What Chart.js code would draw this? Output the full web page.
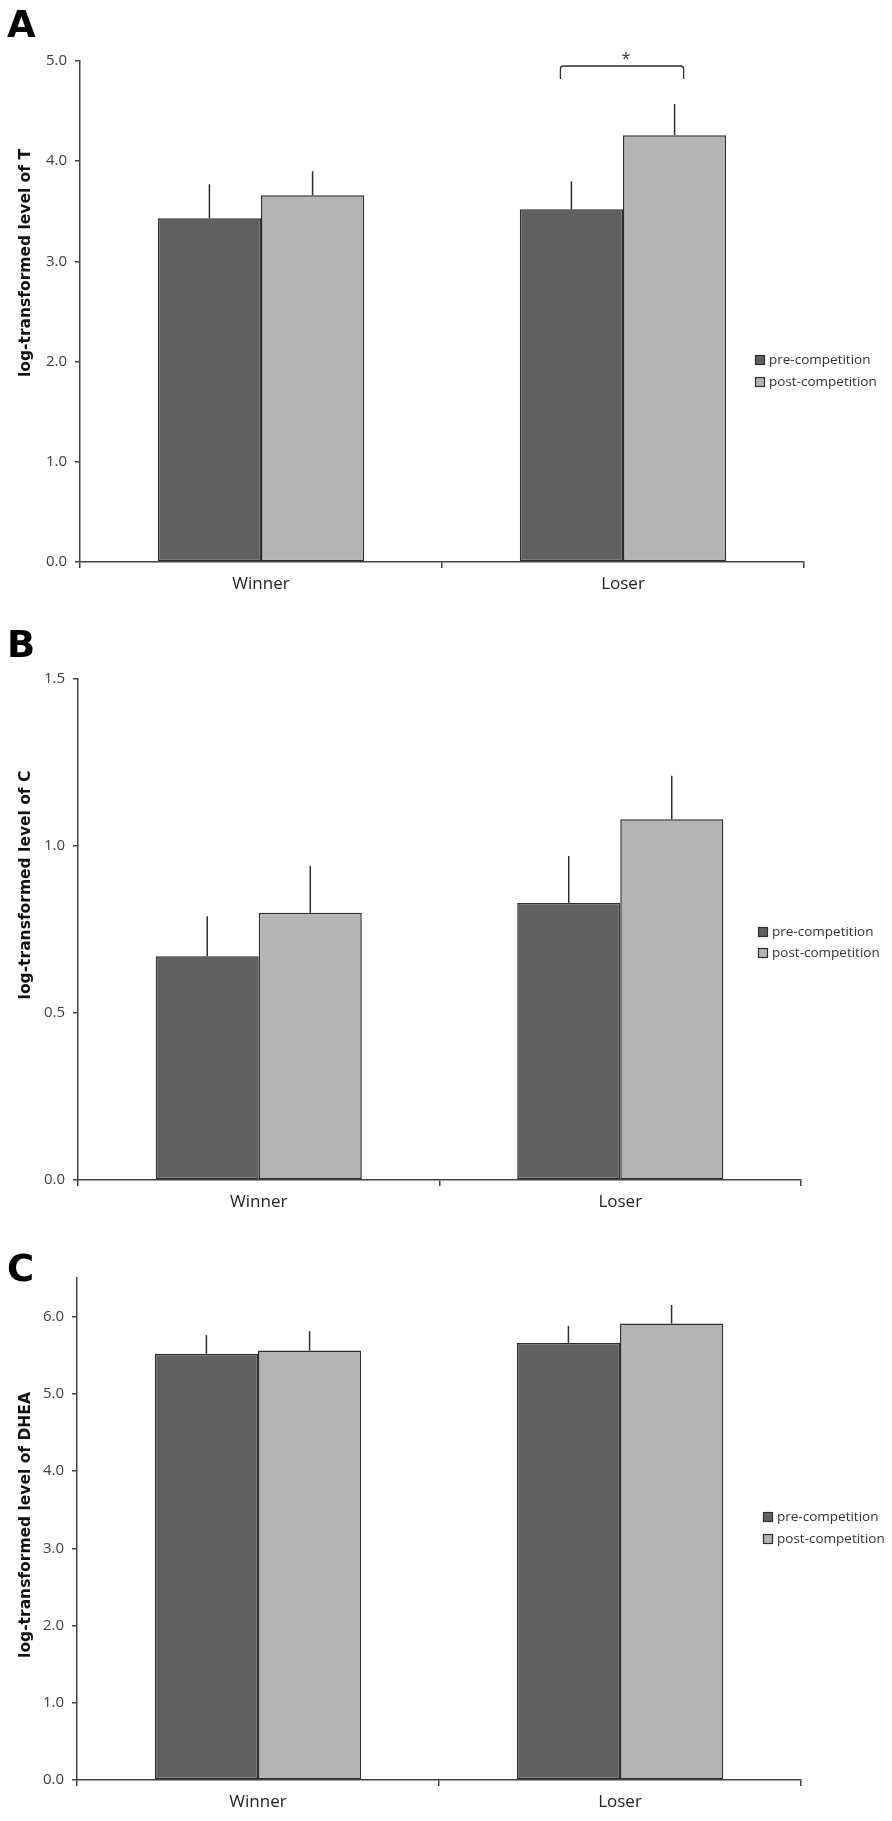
<!DOCTYPE html>
<html>
<head>
<meta charset="utf-8">
<script src="https://cdn.jsdelivr.net/npm/chart.js@4.4.1/dist/chart.umd.min.js"></script>
<style>
  body { margin: 0; background: #fff; }
  #page { position: relative; width: 892px; height: 1821px; background: #fff; }
  canvas { position: absolute; left: 0; }
</style>
</head>
<body>
<div id="page">
  <canvas id="chartA" width="892" height="610" style="top:0px"></canvas>
  <canvas id="chartB" width="892" height="620" style="top:610px"></canvas>
  <canvas id="chartC" width="892" height="591" style="top:1230px"></canvas>
</div>
<script>
// Data
const groups = ['Winner', 'Loser'];
const seriesNames = ['pre-competition', 'post-competition'];

// A: testosterone
const tPre = [3.43, 3.52];
const tPreErr = [0.34, 0.28];
const tPost = [3.66, 4.26];
const tPostErr = [0.24, 0.31];
const tTicks = [0, 1, 2, 3, 4, 5];

// B: cortisol
const cPre = [0.67, 0.83];
const cPreErr = [0.12, 0.14];
const cPost = [0.80, 1.08];
const cPostErr = [0.14, 0.13];
const cTicks = [0, 0.5, 1, 1.5];

// C: DHEA
const dPre = [5.52, 5.66];
const dPreErr = [0.24, 0.22];
const dPost = [5.56, 5.91];
const dPostErr = [0.25, 0.24];
const dTicks = [0, 1, 2, 3, 4, 5, 6];

const PRE_COLOR = '#606062';
const POST_COLOR = '#b4b4b4';
const EDGE = '#2e2e2e';
const AXIS = '#444444';
const TXT = '#333333';
const FONT = '"Open Sans", "DejaVu Sans", sans-serif';

// draws error bars, bracket, legend, axis title and panel letter
const extras = {
    id: 'extras',
    afterDatasetsDraw(chart, args, opts) {
        const ctx = chart.ctx;
        const yScale = chart.scales.y;
        ctx.save();
        ctx.strokeStyle = EDGE;
        ctx.lineWidth = 1.5;
        chart.data.datasets.forEach((ds, i) => {
            const meta = chart.getDatasetMeta(i);
            meta.data.forEach((bar, j) => {
                const top = yScale.getPixelForValue(ds.data[j] + ds.errors[j]);
                ctx.beginPath();
                ctx.moveTo(bar.x, bar.y);
                ctx.lineTo(bar.x, top);
                ctx.stroke();
            });
        });

        // significance bracket
        if (opts.bracket) {
            const b = opts.bracket;
            const x1 = chart.getDatasetMeta(0).data[b.index].x - 11;
            const x2 = chart.getDatasetMeta(1).data[b.index].x + 9;
            const y = yScale.getPixelForValue(b.y);
            const yl = yScale.getPixelForValue(b.legY);
            ctx.lineWidth = 1.3;
            ctx.beginPath();
            ctx.moveTo(x1, yl);
            ctx.lineTo(x1, y + 3);
            ctx.quadraticCurveTo(x1, y, x1 + 3, y);
            ctx.lineTo(x2 - 3, y);
            ctx.quadraticCurveTo(x2, y, x2, y + 3);
            ctx.lineTo(x2, yl);
            ctx.stroke();
            ctx.fillStyle = TXT;
            ctx.font = '16px ' + FONT;
            ctx.textAlign = 'center';
            ctx.textBaseline = 'middle';
            ctx.fillText(b.mark, (x1 + x2) / 2 + 4, yScale.getPixelForValue(b.markY) + 3);
        }
        ctx.restore();
    },
    afterDraw(chart, args, opts) {
        const ctx = chart.ctx;
        ctx.save();

        // legend on the right
        const lg = opts.legend;
        chart.data.datasets.forEach((ds, i) => {
            const y = lg.y[i];
            ctx.fillStyle = ds.backgroundColor;
            ctx.fillRect(lg.x, y - 5, 10, 10);
            ctx.strokeStyle = EDGE;
            ctx.lineWidth = 1.2;
            ctx.strokeRect(lg.x + 0.5, y - 4.5, 9, 9);
            ctx.fillStyle = TXT;
            ctx.font = '13.5px ' + FONT;
            ctx.textAlign = 'left';
            ctx.textBaseline = 'middle';
            ctx.fillText(ds.label, lg.x + 14, y);
        });

        // rotated y title
        const t = opts.yTitle;
        ctx.translate(t.x, t.y);
        ctx.rotate(-Math.PI / 2);
        ctx.fillStyle = '#111';
        ctx.font = 'bold 15.5px "DejaVu Sans", sans-serif';
        ctx.textAlign = 'center';
        ctx.textBaseline = 'middle';
        ctx.fillText(t.text, 0, 0);
        ctx.setTransform(1, 0, 0, 1, 0, 0);
        ctx.restore();

        // panel letter
        ctx.save();
        ctx.fillStyle = '#000';
        ctx.font = 'bold 37px "DejaVu Sans", sans-serif';
        ctx.textAlign = 'left';
        ctx.textBaseline = 'alphabetic';
        ctx.fillText(opts.letter.text, opts.letter.x, opts.letter.y);
        ctx.restore();
    }
};

function makePanel(id, pre, preErr, post, postErr, ticks, yMax, cfg) {
    const ctx = document.getElementById(id).getContext('2d');
    return new Chart(ctx, {
        type: 'bar',
        data: {
            labels: groups,
            datasets: [
                { label: seriesNames[0], data: pre, errors: preErr, backgroundColor: PRE_COLOR },
                { label: seriesNames[1], data: post, errors: postErr, backgroundColor: POST_COLOR }
            ]
        },
        options: {
            responsive: false,
            animation: false,
            datasets: {
                bar: {
                    borderColor: EDGE,
                    borderWidth: 1.5,
                    borderSkipped: false,
                    categoryPercentage: 0.57,
                    barPercentage: 1.0
                }
            },
            layout: { padding: { top: cfg.top, right: cfg.right, left: 0, bottom: 0 } },
            scales: {
                x: {
                    offset: true,
                    grid: { offset: true, drawOnChartArea: false, tickLength: 6, color: AXIS, lineWidth: 1.5 },
                    border: { color: AXIS, width: 1.5 },
                    ticks: { color: '#222', font: { family: FONT, size: 17 }, padding: 6 },
                    afterFit: s => { s.height = cfg.xH; }
                },
                y: {
                    min: 0,
                    max: yMax,
                    afterBuildTicks: s => { s.ticks = ticks.map(v => ({ value: v })); },
                    grid: { drawOnChartArea: false, tickLength: 5, color: AXIS, lineWidth: 1.5 },
                    border: { color: AXIS, width: 1.5 },
                    ticks: {
                        color: '#404040',
                        font: { family: FONT, size: 15 },
                        padding: 8,
                        callback: v => Number(v).toFixed(1)
                    },
                    afterFit: s => { s.width = cfg.yW; }
                }
            },
            plugins: {
                legend: { display: false },
                tooltip: { enabled: false },
                extras: {
                    legend: cfg.legend,
                    yTitle: cfg.yTitle,
                    letter: cfg.letter,
                    bracket: cfg.bracket || null
                }
            }
        },
        plugins: [extras]
    });
}

makePanel('chartA', tPre, tPreErr, tPost, tPostErr, tTicks, 5, {
    top: 61, right: 88, xH: 48, yW: 80,
    legend: { x: 755, y: [360, 382] },
    yTitle: { text: 'log-transformed level of T', x: 26, y: 263 },
    letter: { text: 'A', x: 7, y: 37 },
    bracket: { index: 1, y: 4.95, legY: 4.82, markY: 5.05, mark: '*' }
});

makePanel('chartB', cPre, cPreErr, cPost, cPostErr, cTicks, 1.5, {
    top: 69, right: 91, xH: 50, yW: 78,
    legend: { x: 758, y: [322, 343] },
    yTitle: { text: 'log-transformed level of C', x: 26, y: 275 },
    letter: { text: 'B', x: 7, y: 47 }
});

makePanel('chartC', dPre, dPreErr, dPost, dPostErr, dTicks, 6.5, {
    top: 48, right: 91, xH: 41, yW: 77,
    legend: { x: 763, y: [287, 309] },
    yTitle: { text: 'log-transformed level of DHEA', x: 26, y: 295 },
    letter: { text: 'C', x: 7, y: 51 }
});
</script>
</body>
</html>
